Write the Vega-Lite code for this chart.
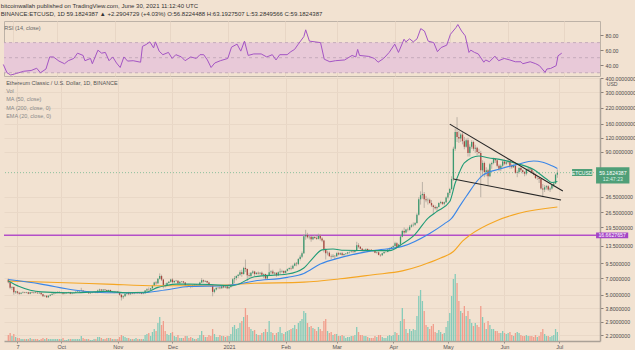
{
"$schema":"https://vega.github.io/schema/vega-lite/v6.json",
"background":"#f2e2d1",
"padding":{"left":0,"top":2,"right":0,"bottom":0},
"bounds":"flush",
"spacing":2,
"config":{"font":"Liberation Sans","view":{"stroke":null},"axis":{"labelOverlap":false}},
"title":{"text":"bitcoinwallah published on TradingView.com, June 30, 2021 11:12:40 UTC","subtitle":"BINANCE:ETCUSD, 1D  59.1824387 ▲ +2.2904729 (+4.03%) O:56.8224488 H:63.1927507 L:53.2849566 C:59.1824387","anchor":"start","frame":"bounds","fontSize":6,"subtitleFontSize":6,"fontWeight":"normal","color":"#333333","subtitleColor":"#333333","offset":3.5,"subtitlePadding":2.5},
"datasets":{
"k":[
{"d":"2020-09-02","o":6.8,"h":6.95,"l":6.3,"c":6.45,"v":6},
{"d":"2020-09-03","o":6.45,"h":6.5,"l":5.6,"c":5.75,"v":8},
{"d":"2020-09-04","o":5.75,"h":5.95,"l":5.5,"c":5.85,"v":5},
{"d":"2020-09-05","o":5.85,"h":5.9,"l":5.0,"c":5.25,"v":7},
{"d":"2020-09-06","o":5.25,"h":5.4,"l":5.1,"c":5.35,"v":4},
{"d":"2020-09-07","o":5.35,"h":5.4,"l":5.05,"c":5.2,"v":3},
{"d":"2020-09-08","o":5.2,"h":5.3,"l":5.0,"c":5.1,"v":3},
{"d":"2020-09-09","o":5.1,"h":5.25,"l":5.05,"c":5.2,"v":2},
{"d":"2020-09-10","o":5.2,"h":5.35,"l":5.15,"c":5.25,"v":2},
{"d":"2020-09-11","o":5.25,"h":5.3,"l":5.15,"c":5.2,"v":2},
{"d":"2020-09-12","o":5.2,"h":5.3,"l":5.15,"c":5.25,"v":2},
{"d":"2020-09-13","o":5.25,"h":5.3,"l":5.05,"c":5.1,"v":2},
{"d":"2020-09-14","o":5.1,"h":5.3,"l":5.05,"c":5.25,"v":3},
{"d":"2020-09-15","o":5.25,"h":5.35,"l":5.15,"c":5.2,"v":2},
{"d":"2020-09-16","o":5.2,"h":5.3,"l":5.1,"c":5.25,"v":2},
{"d":"2020-09-17","o":5.25,"h":5.35,"l":5.15,"c":5.2,"v":2},
{"d":"2020-09-18","o":5.2,"h":5.3,"l":5.1,"c":5.15,"v":2},
{"d":"2020-09-19","o":5.15,"h":5.25,"l":5.1,"c":5.2,"v":1},
{"d":"2020-09-20","o":5.2,"h":5.22,"l":5.0,"c":5.05,"v":2},
{"d":"2020-09-21","o":5.05,"h":5.1,"l":4.8,"c":4.85,"v":3},
{"d":"2020-09-22","o":4.85,"h":4.95,"l":4.8,"c":4.9,"v":2},
{"d":"2020-09-23","o":4.9,"h":4.95,"l":4.7,"c":4.75,"v":3},
{"d":"2020-09-24","o":4.75,"h":4.95,"l":4.7,"c":4.9,"v":2},
{"d":"2020-09-25","o":4.9,"h":5.05,"l":4.85,"c":5.0,"v":2},
{"d":"2020-09-26","o":5.0,"h":5.15,"l":4.95,"c":5.1,"v":2},
{"d":"2020-09-27","o":5.1,"h":5.2,"l":5.0,"c":5.15,"v":2},
{"d":"2020-09-28","o":5.15,"h":5.3,"l":5.1,"c":5.25,"v":2},
{"d":"2020-09-29","o":5.25,"h":5.35,"l":5.15,"c":5.3,"v":2},
{"d":"2020-09-30","o":5.3,"h":5.35,"l":5.15,"c":5.2,"v":2},
{"d":"2020-10-01","o":5.2,"h":5.3,"l":5.1,"c":5.2,"v":2},
{"d":"2020-10-02","o":5.2,"h":5.25,"l":5.0,"c":5.1,"v":3},
{"d":"2020-10-03","o":5.1,"h":5.2,"l":5.05,"c":5.15,"v":1},
{"d":"2020-10-04","o":5.15,"h":5.25,"l":5.1,"c":5.2,"v":1},
{"d":"2020-10-05","o":5.2,"h":5.3,"l":5.15,"c":5.25,"v":2},
{"d":"2020-10-06","o":5.25,"h":5.3,"l":5.05,"c":5.1,"v":2},
{"d":"2020-10-07","o":5.1,"h":5.2,"l":5.05,"c":5.15,"v":2},
{"d":"2020-10-08","o":5.15,"h":5.25,"l":5.1,"c":5.2,"v":2},
{"d":"2020-10-09","o":5.2,"h":5.35,"l":5.15,"c":5.3,"v":2},
{"d":"2020-10-10","o":5.3,"h":5.45,"l":5.25,"c":5.35,"v":2},
{"d":"2020-10-11","o":5.35,"h":5.45,"l":5.3,"c":5.4,"v":2},
{"d":"2020-10-12","o":5.4,"h":5.75,"l":5.35,"c":5.45,"v":5},
{"d":"2020-10-13","o":5.45,"h":5.5,"l":5.3,"c":5.35,"v":3},
{"d":"2020-10-14","o":5.35,"h":5.4,"l":5.25,"c":5.3,"v":2},
{"d":"2020-10-15","o":5.3,"h":5.35,"l":5.2,"c":5.3,"v":2},
{"d":"2020-10-16","o":5.3,"h":5.35,"l":5.1,"c":5.15,"v":2},
{"d":"2020-10-17","o":5.15,"h":5.25,"l":5.1,"c":5.2,"v":1},
{"d":"2020-10-18","o":5.2,"h":5.3,"l":5.15,"c":5.25,"v":1},
{"d":"2020-10-19","o":5.25,"h":5.35,"l":5.2,"c":5.3,"v":2},
{"d":"2020-10-20","o":5.3,"h":5.35,"l":5.15,"c":5.2,"v":2},
{"d":"2020-10-21","o":5.2,"h":5.55,"l":5.15,"c":5.45,"v":4},
{"d":"2020-10-22","o":5.45,"h":5.65,"l":5.4,"c":5.55,"v":4},
{"d":"2020-10-23","o":5.55,"h":5.6,"l":5.4,"c":5.45,"v":3},
{"d":"2020-10-24","o":5.45,"h":5.6,"l":5.4,"c":5.55,"v":2},
{"d":"2020-10-25","o":5.55,"h":5.6,"l":5.4,"c":5.5,"v":2},
{"d":"2020-10-26","o":5.5,"h":5.55,"l":5.3,"c":5.4,"v":3},
{"d":"2020-10-27","o":5.4,"h":5.55,"l":5.35,"c":5.5,"v":3},
{"d":"2020-10-28","o":5.5,"h":5.55,"l":5.25,"c":5.3,"v":3},
{"d":"2020-10-29","o":5.3,"h":5.4,"l":5.2,"c":5.35,"v":2},
{"d":"2020-10-30","o":5.35,"h":5.4,"l":5.15,"c":5.3,"v":2},
{"d":"2020-10-31","o":5.3,"h":5.4,"l":5.2,"c":5.35,"v":2},
{"d":"2020-11-01","o":5.35,"h":5.4,"l":5.2,"c":5.25,"v":2},
{"d":"2020-11-02","o":5.25,"h":5.3,"l":4.9,"c":5.0,"v":4},
{"d":"2020-11-03","o":5.0,"h":5.05,"l":4.45,"c":4.75,"v":6},
{"d":"2020-11-04","o":4.75,"h":4.95,"l":4.6,"c":4.85,"v":5},
{"d":"2020-11-05","o":4.85,"h":5.15,"l":4.8,"c":5.1,"v":4},
{"d":"2020-11-06","o":5.1,"h":5.25,"l":5.0,"c":5.2,"v":3},
{"d":"2020-11-07","o":5.2,"h":5.3,"l":4.95,"c":5.05,"v":3},
{"d":"2020-11-08","o":5.05,"h":5.2,"l":5.0,"c":5.15,"v":2},
{"d":"2020-11-09","o":5.15,"h":5.25,"l":5.05,"c":5.1,"v":2},
{"d":"2020-11-10","o":5.1,"h":5.2,"l":5.05,"c":5.15,"v":2},
{"d":"2020-11-11","o":5.15,"h":5.3,"l":5.1,"c":5.25,"v":3},
{"d":"2020-11-12","o":5.25,"h":5.3,"l":5.1,"c":5.15,"v":2},
{"d":"2020-11-13","o":5.15,"h":5.25,"l":5.1,"c":5.2,"v":2},
{"d":"2020-11-14","o":5.2,"h":5.25,"l":5.05,"c":5.1,"v":2},
{"d":"2020-11-15","o":5.1,"h":5.2,"l":5.05,"c":5.15,"v":2},
{"d":"2020-11-16","o":5.15,"h":5.5,"l":5.1,"c":5.45,"v":6},
{"d":"2020-11-17","o":5.45,"h":5.7,"l":5.35,"c":5.6,"v":7},
{"d":"2020-11-18","o":5.6,"h":5.8,"l":5.4,"c":5.55,"v":8},
{"d":"2020-11-19","o":5.55,"h":5.75,"l":5.5,"c":5.7,"v":5},
{"d":"2020-11-20","o":5.7,"h":6.1,"l":5.65,"c":6.0,"v":9},
{"d":"2020-11-21","o":6.0,"h":6.5,"l":5.95,"c":6.4,"v":12},
{"d":"2020-11-22","o":6.4,"h":6.6,"l":6.1,"c":6.3,"v":10},
{"d":"2020-11-23","o":6.3,"h":7.0,"l":6.2,"c":6.9,"v":18},
{"d":"2020-11-24","o":6.9,"h":7.7,"l":6.8,"c":7.3,"v":24},
{"d":"2020-11-25","o":7.3,"h":7.5,"l":6.6,"c":6.8,"v":16},
{"d":"2020-11-26","o":6.8,"h":6.9,"l":5.7,"c":6.1,"v":20},
{"d":"2020-11-27","o":6.1,"h":6.3,"l":5.8,"c":6.0,"v":10},
{"d":"2020-11-28","o":6.0,"h":6.45,"l":5.95,"c":6.35,"v":7},
{"d":"2020-11-29","o":6.35,"h":6.6,"l":6.25,"c":6.5,"v":6},
{"d":"2020-11-30","o":6.5,"h":6.9,"l":6.4,"c":6.8,"v":8},
{"d":"2020-12-01","o":6.8,"h":7.0,"l":6.3,"c":6.45,"v":9},
{"d":"2020-12-02","o":6.45,"h":6.7,"l":6.35,"c":6.6,"v":5},
{"d":"2020-12-03","o":6.6,"h":6.75,"l":6.5,"c":6.65,"v":4},
{"d":"2020-12-04","o":6.65,"h":6.7,"l":6.2,"c":6.3,"v":6},
{"d":"2020-12-05","o":6.3,"h":6.55,"l":6.25,"c":6.5,"v":3},
{"d":"2020-12-06","o":6.5,"h":6.6,"l":6.4,"c":6.55,"v":3},
{"d":"2020-12-07","o":6.55,"h":6.6,"l":6.3,"c":6.4,"v":3},
{"d":"2020-12-08","o":6.4,"h":6.45,"l":6.0,"c":6.05,"v":5},
{"d":"2020-12-09","o":6.05,"h":6.2,"l":5.8,"c":6.1,"v":5},
{"d":"2020-12-10","o":6.1,"h":6.15,"l":5.9,"c":6.0,"v":3},
{"d":"2020-12-11","o":6.0,"h":6.05,"l":5.7,"c":5.85,"v":4},
{"d":"2020-12-12","o":5.85,"h":6.1,"l":5.8,"c":6.05,"v":3},
{"d":"2020-12-13","o":6.05,"h":6.2,"l":6.0,"c":6.15,"v":2},
{"d":"2020-12-14","o":6.15,"h":6.2,"l":6.0,"c":6.1,"v":2},
{"d":"2020-12-15","o":6.1,"h":6.2,"l":6.0,"c":6.1,"v":3},
{"d":"2020-12-16","o":6.1,"h":6.5,"l":6.05,"c":6.4,"v":6},
{"d":"2020-12-17","o":6.4,"h":7.0,"l":6.35,"c":6.7,"v":10},
{"d":"2020-12-18","o":6.7,"h":6.8,"l":6.4,"c":6.55,"v":6},
{"d":"2020-12-19","o":6.55,"h":6.7,"l":6.45,"c":6.6,"v":4},
{"d":"2020-12-20","o":6.6,"h":6.65,"l":6.3,"c":6.4,"v":4},
{"d":"2020-12-21","o":6.4,"h":6.5,"l":6.0,"c":6.1,"v":6},
{"d":"2020-12-22","o":6.1,"h":6.2,"l":5.85,"c":6.05,"v":5},
{"d":"2020-12-23","o":6.05,"h":6.1,"l":4.85,"c":5.3,"v":12},
{"d":"2020-12-24","o":5.3,"h":5.65,"l":5.15,"c":5.55,"v":7},
{"d":"2020-12-25","o":5.55,"h":5.8,"l":5.45,"c":5.75,"v":4},
{"d":"2020-12-26","o":5.75,"h":5.9,"l":5.6,"c":5.8,"v":4},
{"d":"2020-12-27","o":5.8,"h":6.1,"l":5.6,"c":5.7,"v":6},
{"d":"2020-12-28","o":5.7,"h":6.0,"l":5.65,"c":5.95,"v":5},
{"d":"2020-12-29","o":5.95,"h":6.0,"l":5.7,"c":5.8,"v":5},
{"d":"2020-12-30","o":5.8,"h":5.95,"l":5.7,"c":5.9,"v":4},
{"d":"2020-12-31","o":5.9,"h":6.0,"l":5.6,"c":5.7,"v":5},
{"d":"2021-01-01","o":5.7,"h":5.9,"l":5.6,"c":5.85,"v":5},
{"d":"2021-01-02","o":5.85,"h":6.1,"l":5.75,"c":6.0,"v":7},
{"d":"2021-01-03","o":6.0,"h":7.0,"l":5.95,"c":6.85,"v":14},
{"d":"2021-01-04","o":6.85,"h":7.3,"l":6.3,"c":7.0,"v":16},
{"d":"2021-01-05","o":7.0,"h":7.4,"l":6.7,"c":7.3,"v":12},
{"d":"2021-01-06","o":7.3,"h":7.6,"l":7.0,"c":7.5,"v":13},
{"d":"2021-01-07","o":7.5,"h":8.2,"l":7.3,"c":7.9,"v":18},
{"d":"2021-01-08","o":7.9,"h":8.3,"l":7.2,"c":7.6,"v":20},
{"d":"2021-01-09","o":7.6,"h":8.8,"l":7.5,"c":8.6,"v":24},
{"d":"2021-01-10","o":8.6,"h":10.2,"l":7.9,"c":8.4,"v":33},
{"d":"2021-01-11","o":8.4,"h":8.5,"l":6.6,"c":7.4,"v":26},
{"d":"2021-01-12","o":7.4,"h":7.8,"l":7.0,"c":7.3,"v":14},
{"d":"2021-01-13","o":7.3,"h":7.9,"l":7.0,"c":7.8,"v":12},
{"d":"2021-01-14","o":7.8,"h":8.2,"l":7.6,"c":8.0,"v":10},
{"d":"2021-01-15","o":8.0,"h":8.1,"l":7.3,"c":7.6,"v":11},
{"d":"2021-01-16","o":7.6,"h":7.9,"l":7.5,"c":7.8,"v":7},
{"d":"2021-01-17","o":7.8,"h":8.0,"l":7.5,"c":7.7,"v":6},
{"d":"2021-01-18","o":7.7,"h":7.9,"l":7.5,"c":7.8,"v":6},
{"d":"2021-01-19","o":7.8,"h":8.0,"l":7.4,"c":7.5,"v":8},
{"d":"2021-01-20","o":7.5,"h":7.7,"l":7.0,"c":7.6,"v":9},
{"d":"2021-01-21","o":7.6,"h":7.65,"l":6.8,"c":6.95,"v":12},
{"d":"2021-01-22","o":6.95,"h":7.5,"l":6.8,"c":7.4,"v":9},
{"d":"2021-01-23","o":7.4,"h":9.4,"l":7.3,"c":7.9,"v":20},
{"d":"2021-01-24","o":7.9,"h":8.2,"l":7.6,"c":8.0,"v":9},
{"d":"2021-01-25","o":8.0,"h":8.3,"l":7.6,"c":7.7,"v":8},
{"d":"2021-01-26","o":7.7,"h":7.9,"l":7.4,"c":7.8,"v":6},
{"d":"2021-01-27","o":7.8,"h":7.85,"l":7.2,"c":7.4,"v":8},
{"d":"2021-01-28","o":7.4,"h":8.0,"l":7.3,"c":7.9,"v":9},
{"d":"2021-01-29","o":7.9,"h":8.5,"l":7.6,"c":8.0,"v":14},
{"d":"2021-01-30","o":8.0,"h":8.3,"l":7.8,"c":8.1,"v":8},
{"d":"2021-01-31","o":8.1,"h":8.2,"l":7.6,"c":7.8,"v":7},
{"d":"2021-02-01","o":7.8,"h":8.2,"l":7.7,"c":8.1,"v":9},
{"d":"2021-02-02","o":8.1,"h":8.5,"l":8.0,"c":8.4,"v":10},
{"d":"2021-02-03","o":8.4,"h":8.7,"l":8.2,"c":8.6,"v":11},
{"d":"2021-02-04","o":8.6,"h":9.0,"l":8.2,"c":8.5,"v":12},
{"d":"2021-02-05","o":8.5,"h":9.2,"l":8.4,"c":9.0,"v":13},
{"d":"2021-02-06","o":9.0,"h":9.6,"l":8.9,"c":9.4,"v":16},
{"d":"2021-02-07","o":9.4,"h":9.7,"l":8.9,"c":9.3,"v":12},
{"d":"2021-02-08","o":9.3,"h":10.5,"l":9.1,"c":10.3,"v":18},
{"d":"2021-02-09","o":10.3,"h":11.2,"l":10.0,"c":10.8,"v":20},
{"d":"2021-02-10","o":10.8,"h":12.0,"l":10.5,"c":11.6,"v":22},
{"d":"2021-02-11","o":11.6,"h":17.0,"l":11.4,"c":16.3,"v":30},
{"d":"2021-02-12","o":16.3,"h":18.6,"l":15.2,"c":16.8,"v":28},
{"d":"2021-02-13","o":16.8,"h":17.5,"l":15.6,"c":16.0,"v":18},
{"d":"2021-02-14","o":16.0,"h":16.7,"l":15.3,"c":16.2,"v":14},
{"d":"2021-02-15","o":16.2,"h":16.4,"l":14.6,"c":15.4,"v":15},
{"d":"2021-02-16","o":15.4,"h":16.5,"l":15.1,"c":16.1,"v":13},
{"d":"2021-02-17","o":16.1,"h":16.8,"l":15.5,"c":15.8,"v":12},
{"d":"2021-02-18","o":15.8,"h":16.3,"l":15.2,"c":15.5,"v":10},
{"d":"2021-02-19","o":15.5,"h":17.2,"l":15.3,"c":16.5,"v":14},
{"d":"2021-02-20","o":16.5,"h":17.0,"l":15.0,"c":15.6,"v":12},
{"d":"2021-02-21","o":15.6,"h":16.0,"l":14.5,"c":15.0,"v":10},
{"d":"2021-02-22","o":15.0,"h":15.2,"l":11.8,"c":12.6,"v":20},
{"d":"2021-02-23","o":12.6,"h":12.8,"l":10.2,"c":11.6,"v":22},
{"d":"2021-02-24","o":11.6,"h":12.2,"l":11.1,"c":11.7,"v":10},
{"d":"2021-02-25","o":11.7,"h":12.0,"l":10.8,"c":10.9,"v":8},
{"d":"2021-02-26","o":10.9,"h":11.3,"l":10.3,"c":10.8,"v":9},
{"d":"2021-02-27","o":10.8,"h":11.4,"l":10.6,"c":11.0,"v":6},
{"d":"2021-02-28","o":11.0,"h":11.1,"l":10.2,"c":10.9,"v":7},
{"d":"2021-03-01","o":10.9,"h":11.8,"l":10.8,"c":11.6,"v":7},
{"d":"2021-03-02","o":11.6,"h":11.9,"l":11.1,"c":11.3,"v":5},
{"d":"2021-03-03","o":11.3,"h":11.8,"l":11.2,"c":11.6,"v":5},
{"d":"2021-03-04","o":11.6,"h":11.9,"l":11.0,"c":11.2,"v":6},
{"d":"2021-03-05","o":11.2,"h":11.5,"l":10.9,"c":11.4,"v":5},
{"d":"2021-03-06","o":11.4,"h":11.6,"l":11.2,"c":11.5,"v":3},
{"d":"2021-03-07","o":11.5,"h":11.9,"l":11.3,"c":11.8,"v":4},
{"d":"2021-03-08","o":11.8,"h":12.0,"l":11.5,"c":11.9,"v":4},
{"d":"2021-03-09","o":11.9,"h":12.2,"l":11.7,"c":12.0,"v":5},
{"d":"2021-03-10","o":12.0,"h":12.3,"l":11.6,"c":11.9,"v":5},
{"d":"2021-03-11","o":11.9,"h":12.4,"l":11.7,"c":12.2,"v":6},
{"d":"2021-03-12","o":12.2,"h":14.6,"l":12.0,"c":13.6,"v":14},
{"d":"2021-03-13","o":13.6,"h":14.2,"l":12.8,"c":13.2,"v":9},
{"d":"2021-03-14","o":13.2,"h":13.4,"l":12.5,"c":12.7,"v":6},
{"d":"2021-03-15","o":12.7,"h":12.9,"l":12.0,"c":12.3,"v":6},
{"d":"2021-03-16","o":12.3,"h":12.6,"l":11.9,"c":12.4,"v":5},
{"d":"2021-03-17","o":12.4,"h":12.8,"l":12.1,"c":12.6,"v":5},
{"d":"2021-03-18","o":12.6,"h":12.8,"l":12.1,"c":12.2,"v":4},
{"d":"2021-03-19","o":12.2,"h":12.5,"l":12.0,"c":12.4,"v":3},
{"d":"2021-03-20","o":12.4,"h":12.6,"l":12.2,"c":12.3,"v":3},
{"d":"2021-03-21","o":12.3,"h":12.4,"l":11.9,"c":12.2,"v":3},
{"d":"2021-03-22","o":12.2,"h":12.3,"l":11.6,"c":11.7,"v":5},
{"d":"2021-03-23","o":11.7,"h":12.0,"l":11.5,"c":11.8,"v":4},
{"d":"2021-03-24","o":11.8,"h":12.0,"l":11.1,"c":11.2,"v":6},
{"d":"2021-03-25","o":11.2,"h":11.4,"l":10.8,"c":11.1,"v":6},
{"d":"2021-03-26","o":11.1,"h":11.7,"l":11.0,"c":11.6,"v":4},
{"d":"2021-03-27","o":11.6,"h":12.0,"l":11.5,"c":11.9,"v":3},
{"d":"2021-03-28","o":11.9,"h":12.1,"l":11.7,"c":11.9,"v":3},
{"d":"2021-03-29","o":11.9,"h":12.6,"l":11.8,"c":12.5,"v":5},
{"d":"2021-03-30","o":12.5,"h":13.0,"l":12.3,"c":12.8,"v":6},
{"d":"2021-03-31","o":12.8,"h":13.2,"l":12.5,"c":13.1,"v":5},
{"d":"2021-04-01","o":13.1,"h":13.6,"l":12.7,"c":13.4,"v":6},
{"d":"2021-04-02","o":13.4,"h":14.6,"l":13.2,"c":14.2,"v":9},
{"d":"2021-04-03","o":14.2,"h":14.5,"l":12.9,"c":13.1,"v":8},
{"d":"2021-04-04","o":13.1,"h":14.0,"l":13.0,"c":13.8,"v":6},
{"d":"2021-04-05","o":13.8,"h":16.5,"l":13.6,"c":16.2,"v":20},
{"d":"2021-04-06","o":16.2,"h":18.6,"l":16.0,"c":18.2,"v":33},
{"d":"2021-04-07","o":18.2,"h":19.5,"l":16.8,"c":17.6,"v":22},
{"d":"2021-04-08","o":17.6,"h":19.0,"l":17.3,"c":18.7,"v":12},
{"d":"2021-04-09","o":18.7,"h":19.4,"l":18.0,"c":18.6,"v":8},
{"d":"2021-04-10","o":18.6,"h":20.5,"l":18.3,"c":19.8,"v":12},
{"d":"2021-04-11","o":19.8,"h":21.0,"l":19.4,"c":20.4,"v":10},
{"d":"2021-04-12","o":20.4,"h":21.6,"l":19.8,"c":20.6,"v":12},
{"d":"2021-04-13","o":20.6,"h":21.8,"l":20.2,"c":21.4,"v":11},
{"d":"2021-04-14","o":21.4,"h":26.0,"l":21.0,"c":25.3,"v":25},
{"d":"2021-04-15","o":25.3,"h":36.0,"l":24.8,"c":34.5,"v":45},
{"d":"2021-04-16","o":34.5,"h":40.5,"l":31.0,"c":37.5,"v":51},
{"d":"2021-04-17","o":37.5,"h":49.0,"l":35.0,"c":38.5,"v":40},
{"d":"2021-04-18","o":38.5,"h":40.0,"l":29.0,"c":34.5,"v":30},
{"d":"2021-04-19","o":34.5,"h":37.0,"l":32.5,"c":33.8,"v":16},
{"d":"2021-04-20","o":33.8,"h":35.5,"l":31.0,"c":34.2,"v":14},
{"d":"2021-04-21","o":34.2,"h":35.0,"l":31.5,"c":32.0,"v":12},
{"d":"2021-04-22","o":32.0,"h":34.0,"l":29.5,"c":30.5,"v":15},
{"d":"2021-04-23","o":30.5,"h":31.0,"l":25.5,"c":29.5,"v":17},
{"d":"2021-04-24","o":29.5,"h":30.5,"l":28.0,"c":28.8,"v":9},
{"d":"2021-04-25","o":28.8,"h":30.0,"l":27.0,"c":29.5,"v":8},
{"d":"2021-04-26","o":29.5,"h":32.5,"l":29.2,"c":32.0,"v":11},
{"d":"2021-04-27","o":32.0,"h":33.5,"l":31.2,"c":32.6,"v":9},
{"d":"2021-04-28","o":32.6,"h":33.0,"l":30.8,"c":31.5,"v":7},
{"d":"2021-04-29","o":31.5,"h":33.0,"l":30.5,"c":32.5,"v":8},
{"d":"2021-04-30","o":32.5,"h":36.5,"l":32.0,"c":35.8,"v":14},
{"d":"2021-05-01","o":35.8,"h":40.0,"l":35.0,"c":39.2,"v":20},
{"d":"2021-05-02","o":39.2,"h":43.5,"l":37.5,"c":42.5,"v":28},
{"d":"2021-05-03","o":42.5,"h":55.0,"l":41.5,"c":52.0,"v":45},
{"d":"2021-05-04","o":52.0,"h":100.0,"l":50.0,"c":96.0,"v":62},
{"d":"2021-05-05","o":96.0,"h":145.0,"l":92.0,"c":135.0,"v":67},
{"d":"2021-05-06","o":135.0,"h":182.0,"l":110.0,"c":122.0,"v":58},
{"d":"2021-05-07","o":122.0,"h":138.0,"l":108.0,"c":118.0,"v":40},
{"d":"2021-05-08","o":118.0,"h":132.0,"l":110.0,"c":128.0,"v":30},
{"d":"2021-05-09","o":128.0,"h":134.0,"l":105.0,"c":112.0,"v":28},
{"d":"2021-05-10","o":112.0,"h":122.0,"l":95.0,"c":100.0,"v":35},
{"d":"2021-05-11","o":100.0,"h":118.0,"l":98.0,"c":114.0,"v":25},
{"d":"2021-05-12","o":114.0,"h":120.0,"l":82.0,"c":88.0,"v":30},
{"d":"2021-05-13","o":88.0,"h":105.0,"l":82.0,"c":100.0,"v":22},
{"d":"2021-05-14","o":100.0,"h":114.0,"l":96.0,"c":110.0,"v":18},
{"d":"2021-05-15","o":110.0,"h":113.0,"l":92.0,"c":96.0,"v":15},
{"d":"2021-05-16","o":96.0,"h":104.0,"l":88.0,"c":98.0,"v":18},
{"d":"2021-05-17","o":98.0,"h":100.0,"l":84.0,"c":90.0,"v":16},
{"d":"2021-05-18","o":90.0,"h":96.0,"l":86.0,"c":88.0,"v":14},
{"d":"2021-05-19","o":88.0,"h":92.0,"l":36.0,"c":62.0,"v":35},
{"d":"2021-05-20","o":62.0,"h":76.0,"l":55.0,"c":72.0,"v":24},
{"d":"2021-05-21","o":72.0,"h":74.0,"l":54.0,"c":60.0,"v":18},
{"d":"2021-05-22","o":60.0,"h":66.0,"l":55.0,"c":62.0,"v":12},
{"d":"2021-05-23","o":62.0,"h":64.0,"l":46.0,"c":55.0,"v":20},
{"d":"2021-05-24","o":55.0,"h":72.0,"l":54.0,"c":70.0,"v":16},
{"d":"2021-05-25","o":70.0,"h":74.0,"l":64.0,"c":72.0,"v":12},
{"d":"2021-05-26","o":72.0,"h":80.0,"l":70.0,"c":78.0,"v":12},
{"d":"2021-05-27","o":78.0,"h":79.0,"l":72.0,"c":76.0,"v":10},
{"d":"2021-05-28","o":76.0,"h":77.0,"l":66.0,"c":68.0,"v":10},
{"d":"2021-05-29","o":68.0,"h":70.0,"l":61.0,"c":64.0,"v":8},
{"d":"2021-05-30","o":64.0,"h":70.0,"l":61.0,"c":68.0,"v":8},
{"d":"2021-05-31","o":68.0,"h":76.0,"l":66.0,"c":74.0,"v":10},
{"d":"2021-06-01","o":74.0,"h":77.0,"l":69.0,"c":71.0,"v":8},
{"d":"2021-06-02","o":71.0,"h":75.0,"l":69.0,"c":73.0,"v":7},
{"d":"2021-06-03","o":73.0,"h":78.0,"l":71.0,"c":75.0,"v":8},
{"d":"2021-06-04","o":75.0,"h":76.0,"l":64.0,"c":68.0,"v":9},
{"d":"2021-06-05","o":68.0,"h":71.0,"l":64.0,"c":66.0,"v":6},
{"d":"2021-06-06","o":66.0,"h":70.0,"l":65.0,"c":68.0,"v":5},
{"d":"2021-06-07","o":68.0,"h":70.0,"l":58.0,"c":59.0,"v":8},
{"d":"2021-06-08","o":59.0,"h":62.0,"l":54.0,"c":60.0,"v":9},
{"d":"2021-06-09","o":60.0,"h":66.0,"l":58.0,"c":65.0,"v":8},
{"d":"2021-06-10","o":65.0,"h":67.0,"l":60.0,"c":62.0,"v":6},
{"d":"2021-06-11","o":62.0,"h":63.0,"l":58.0,"c":60.0,"v":5},
{"d":"2021-06-12","o":60.0,"h":61.0,"l":55.0,"c":58.0,"v":5},
{"d":"2021-06-13","o":58.0,"h":64.0,"l":56.0,"c":63.0,"v":6},
{"d":"2021-06-14","o":63.0,"h":66.0,"l":61.0,"c":64.0,"v":5},
{"d":"2021-06-15","o":64.0,"h":66.0,"l":61.0,"c":63.0,"v":5},
{"d":"2021-06-16","o":63.0,"h":64.0,"l":58.0,"c":59.0,"v":5},
{"d":"2021-06-17","o":59.0,"h":61.0,"l":56.0,"c":57.0,"v":4},
{"d":"2021-06-18","o":57.0,"h":58.0,"l":52.0,"c":53.0,"v":6},
{"d":"2021-06-19","o":53.0,"h":55.0,"l":51.0,"c":53.0,"v":4},
{"d":"2021-06-20","o":53.0,"h":54.0,"l":48.0,"c":52.0,"v":5},
{"d":"2021-06-21","o":52.0,"h":53.0,"l":42.0,"c":43.0,"v":9},
{"d":"2021-06-22","o":43.0,"h":47.0,"l":36.0,"c":42.0,"v":12},
{"d":"2021-06-23","o":42.0,"h":46.0,"l":40.0,"c":44.0,"v":7},
{"d":"2021-06-24","o":44.0,"h":46.0,"l":42.0,"c":45.0,"v":5},
{"d":"2021-06-25","o":45.0,"h":46.0,"l":41.0,"c":42.0,"v":5},
{"d":"2021-06-26","o":42.0,"h":44.0,"l":40.0,"c":43.0,"v":4},
{"d":"2021-06-27","o":43.0,"h":47.0,"l":42.0,"c":46.0,"v":5},
{"d":"2021-06-28","o":46.0,"h":49.0,"l":44.0,"c":47.5,"v":6},
{"d":"2021-06-29","o":47.5,"h":58.0,"l":47.0,"c":56.8224488,"v":12},
{"d":"2021-06-30","o":56.8224488,"h":63.1927507,"l":53.2849566,"c":59.1824387,"v":9}
],
"r":[
{"d":"2020-09-02","r":41},{"d":"2020-09-04","r":30},{"d":"2020-09-06","r":27},{"d":"2020-09-09","r":29},{"d":"2020-09-13","r":32},{"d":"2020-09-17","r":33},{"d":"2020-09-20","r":36},{"d":"2020-09-22","r":30},{"d":"2020-09-25","r":35},{"d":"2020-09-27","r":51},{"d":"2020-09-29","r":51},
{"d":"2020-10-02","r":45.5},{"d":"2020-10-05","r":42},{"d":"2020-10-07","r":46},{"d":"2020-10-10","r":49},{"d":"2020-10-12","r":56},{"d":"2020-10-15","r":53},{"d":"2020-10-16","r":46},{"d":"2020-10-19","r":49},{"d":"2020-10-20","r":42},{"d":"2020-10-23","r":60},{"d":"2020-10-25","r":56},{"d":"2020-10-27","r":57},{"d":"2020-10-29","r":46},{"d":"2020-10-31","r":51},
{"d":"2020-11-02","r":43},{"d":"2020-11-04","r":37},{"d":"2020-11-06","r":51},{"d":"2020-11-08","r":45.5},{"d":"2020-11-11","r":46},{"d":"2020-11-15","r":44},{"d":"2020-11-16","r":65},{"d":"2020-11-18","r":67.5},{"d":"2020-11-20","r":71},{"d":"2020-11-22","r":63},{"d":"2020-11-23","r":71},{"d":"2020-11-25","r":58.7},{"d":"2020-11-27","r":54},{"d":"2020-11-30","r":57},
{"d":"2020-12-02","r":49},{"d":"2020-12-04","r":54},{"d":"2020-12-07","r":51},{"d":"2020-12-09","r":46},{"d":"2020-12-12","r":51},{"d":"2020-12-15","r":49},{"d":"2020-12-17","r":54},{"d":"2020-12-19","r":54},{"d":"2020-12-21","r":47},{"d":"2020-12-23","r":37},{"d":"2020-12-25","r":43},{"d":"2020-12-28","r":46},
{"d":"2021-01-01","r":49},{"d":"2021-01-03","r":64},{"d":"2021-01-06","r":68},{"d":"2021-01-08","r":58.7},{"d":"2021-01-10","r":72},{"d":"2021-01-12","r":53},{"d":"2021-01-15","r":55},{"d":"2021-01-19","r":55},{"d":"2021-01-22","r":51},{"d":"2021-01-25","r":54},{"d":"2021-01-27","r":47},{"d":"2021-01-29","r":54},
{"d":"2021-02-02","r":54},{"d":"2021-02-04","r":58},{"d":"2021-02-06","r":61},{"d":"2021-02-08","r":68},{"d":"2021-02-11","r":78},{"d":"2021-02-12","r":87},{"d":"2021-02-14","r":72},{"d":"2021-02-17","r":71},{"d":"2021-02-20","r":70},{"d":"2021-02-22","r":48},{"d":"2021-02-25","r":44.6},{"d":"2021-02-28","r":46},
{"d":"2021-03-05","r":47},{"d":"2021-03-09","r":53},{"d":"2021-03-11","r":51},{"d":"2021-03-12","r":61},{"d":"2021-03-13","r":53},{"d":"2021-03-18","r":51.7},{"d":"2021-03-21","r":49},{"d":"2021-03-23","r":44},{"d":"2021-03-26","r":49},{"d":"2021-03-29","r":57},
{"d":"2021-04-01","r":68},{"d":"2021-04-03","r":57},{"d":"2021-04-06","r":74.5},{"d":"2021-04-07","r":71},{"d":"2021-04-09","r":75},{"d":"2021-04-11","r":71},{"d":"2021-04-13","r":75},{"d":"2021-04-15","r":88.6},{"d":"2021-04-17","r":85.4},{"d":"2021-04-19","r":72},{"d":"2021-04-22","r":70},{"d":"2021-04-24","r":58},{"d":"2021-04-26","r":63.5},{"d":"2021-04-29","r":66.6},
{"d":"2021-05-01","r":81},{"d":"2021-05-04","r":90},{"d":"2021-05-05","r":94},{"d":"2021-05-07","r":85.4},{"d":"2021-05-09","r":79},{"d":"2021-05-11","r":57},{"d":"2021-05-12","r":60},{"d":"2021-05-14","r":57},{"d":"2021-05-16","r":55},{"d":"2021-05-19","r":44},{"d":"2021-05-20","r":47},{"d":"2021-05-22","r":44.6},{"d":"2021-05-25","r":52},{"d":"2021-05-27","r":46},{"d":"2021-05-30","r":49},
{"d":"2021-06-02","r":47},{"d":"2021-06-05","r":44.6},{"d":"2021-06-08","r":44.6},{"d":"2021-06-09","r":42},{"d":"2021-06-13","r":44.6},{"d":"2021-06-16","r":42},{"d":"2021-06-18","r":39.4},{"d":"2021-06-21","r":30.6},{"d":"2021-06-22","r":35},{"d":"2021-06-24","r":35.7},{"d":"2021-06-27","r":39.4},{"d":"2021-06-28","r":52.5},{"d":"2021-06-30","r":56}
],
"m":[
{"s":"200","d":"2020-09-02","p":6.6},{"s":"200","d":"2020-09-29","p":6.4},{"s":"200","d":"2020-10-26","p":6.2},{"s":"200","d":"2020-11-22","p":6.0},{"s":"200","d":"2020-12-19","p":6.0},{"s":"200","d":"2021-01-15","p":6.3},{"s":"200","d":"2021-02-11","p":6.45},{"s":"200","d":"2021-03-03","p":6.9},{"s":"200","d":"2021-03-21","p":7.5},{"s":"200","d":"2021-04-06","p":8.1},{"s":"200","d":"2021-04-16","p":9.0},{"s":"200","d":"2021-04-27","p":10.5},{"s":"200","d":"2021-05-04","p":12.0},{"s":"200","d":"2021-05-09","p":14.8},{"s":"200","d":"2021-05-13","p":16.7},{"s":"200","d":"2021-05-28","p":22.5},{"s":"200","d":"2021-06-09","p":26.0},{"s":"200","d":"2021-06-30","p":29.5},
{"s":"50","d":"2020-09-02","p":6.8},{"s":"50","d":"2020-09-20","p":6.2},{"s":"50","d":"2020-10-08","p":5.5},{"s":"50","d":"2020-10-26","p":5.2},{"s":"50","d":"2020-11-13","p":5.2},{"s":"50","d":"2020-11-27","p":5.5},{"s":"50","d":"2020-12-10","p":5.9},{"s":"50","d":"2020-12-28","p":6.0},{"s":"50","d":"2021-01-03","p":6.1},{"s":"50","d":"2021-01-15","p":6.6},{"s":"50","d":"2021-02-02","p":7.1},{"s":"50","d":"2021-02-11","p":7.7},{"s":"50","d":"2021-02-20","p":9.3},{"s":"50","d":"2021-03-03","p":10.6},{"s":"50","d":"2021-03-21","p":12.2},{"s":"50","d":"2021-04-06","p":13.3},{"s":"50","d":"2021-04-21","p":17.3},{"s":"50","d":"2021-04-29","p":21.0},{"s":"50","d":"2021-05-03","p":23.5},{"s":"50","d":"2021-05-08","p":31.0},{"s":"50","d":"2021-05-11","p":36.5},{"s":"50","d":"2021-05-20","p":56.0},{"s":"50","d":"2021-05-30","p":64.0},{"s":"50","d":"2021-06-08","p":70.0},{"s":"50","d":"2021-06-17","p":75.0},{"s":"50","d":"2021-06-22","p":73.0},{"s":"50","d":"2021-06-27","p":68.0},{"s":"50","d":"2021-06-30","p":64.5},
{"s":"20","d":"2020-09-02","p":6.6},{"s":"20","d":"2020-09-08","p":5.9},{"s":"20","d":"2020-09-20","p":5.3},{"s":"20","d":"2020-10-08","p":5.2},{"s":"20","d":"2020-10-26","p":5.35},{"s":"20","d":"2020-11-06","p":5.2},{"s":"20","d":"2020-11-16","p":5.25},{"s":"20","d":"2020-11-23","p":5.8},{"s":"20","d":"2020-11-27","p":6.0},{"s":"20","d":"2020-12-03","p":6.2},{"s":"20","d":"2020-12-10","p":6.2},{"s":"20","d":"2020-12-22","p":6.15},{"s":"20","d":"2021-01-03","p":6.0},{"s":"20","d":"2021-01-15","p":7.2},{"s":"20","d":"2021-02-02","p":7.6},{"s":"20","d":"2021-02-11","p":8.6},{"s":"20","d":"2021-02-16","p":10.5},{"s":"20","d":"2021-02-21","p":12.4},{"s":"20","d":"2021-02-27","p":12.6},{"s":"20","d":"2021-03-05","p":12.3},{"s":"20","d":"2021-03-21","p":12.2},{"s":"20","d":"2021-03-30","p":12.2},{"s":"20","d":"2021-04-06","p":14.0},{"s":"20","d":"2021-04-13","p":17.0},{"s":"20","d":"2021-04-20","p":23.5},{"s":"20","d":"2021-04-25","p":27.0},{"s":"20","d":"2021-05-02","p":33.0},{"s":"20","d":"2021-05-05","p":48.0},{"s":"20","d":"2021-05-07","p":58.0},{"s":"20","d":"2021-05-10","p":72.0},{"s":"20","d":"2021-05-18","p":83.0},{"s":"20","d":"2021-05-23","p":80.0},{"s":"20","d":"2021-05-30","p":77.0},{"s":"20","d":"2021-06-08","p":71.0},{"s":"20","d":"2021-06-17","p":63.0},{"s":"20","d":"2021-06-24","p":52.0},{"s":"20","d":"2021-06-27","p":48.5},{"s":"20","d":"2021-06-30","p":49.5}
],
"t":[
{"id":"u","d":"2021-05-02","p":158},{"id":"u","d":"2021-07-03","p":40.8},
{"id":"l","d":"2021-05-04","p":52.1},{"id":"l","d":"2021-07-02","p":34.0}
]
},
"vconcat":[
{
"width":596,"height":55,
"view":{"stroke":"#bdb2a7","strokeWidth":1},
"title":{"text":"RSI (14, close)","anchor":"start","offset":-10,"dx":3,"fontSize":5.5,"fontWeight":"normal","color":"#666666"},
"layer":[
{"data":{"values":[{}]},"mark":{"type":"rect","color":"#e8c9d8"},"encoding":{"y":{"datum":70,"type":"quantitative","scale":{"domain":[25.7,98.7],"nice":false,"zero":false},"axis":{"orient":"right","values":[40,60,80],"format":".2f","labelFontSize":5.2,"labelColor":"#4a4a4a","tickSize":3,"tickColor":"#8a8078","labelPadding":2,"domain":false,"grid":false,"title":null,"labelOverlap":false}},"y2":{"datum":30}}},
{"data":{"values":[{"lv":70},{"lv":50},{"lv":30}]},"mark":{"type":"rule","color":"#bba2b4","strokeDash":[3,3],"strokeWidth":0.8},"encoding":{"y":{"field":"lv","type":"quantitative","scale":{"domain":[25.7,98.7],"nice":false,"zero":false},"axis":{"orient":"right","values":[40,60,80],"format":".2f","labelFontSize":5.2,"labelColor":"#4a4a4a","tickSize":3,"tickColor":"#8a8078","labelPadding":2,"domain":false,"grid":false,"title":null,"labelOverlap":false}}}},
{"data":{"name":"r"},"mark":{"type":"line","color":"#a455c4","strokeWidth":1},
"encoding":{
"x":{"field":"d","type":"temporal","scale":{"type":"utc","domain":[{"year":2020,"month":9,"date":2,"hours":9,"utc":true},{"year":2021,"month":7,"date":20,"hours":15,"utc":true}],"nice":false},
"axis":{"values":[{"year":2020,"month":9,"date":7,"utc":true},{"year":2020,"month":10,"date":1,"utc":true},{"year":2020,"month":11,"date":1,"utc":true},{"year":2020,"month":12,"date":1,"utc":true},{"year":2021,"month":1,"date":1,"utc":true},{"year":2021,"month":2,"date":1,"utc":true},{"year":2021,"month":3,"date":1,"utc":true},{"year":2021,"month":4,"date":1,"utc":true},{"year":2021,"month":5,"date":1,"utc":true},{"year":2021,"month":6,"date":1,"utc":true},{"year":2021,"month":7,"date":1,"utc":true}],"labels":false,"ticks":false,"domain":false,"grid":true,"gridColor":"#e8d6c5","title":null}},
"y":{"field":"r","type":"quantitative","scale":{"domain":[25.7,98.7],"nice":false,"zero":false},"axis":{"orient":"right","values":[40,60,80],"format":".2f","labelFontSize":5.2,"labelColor":"#4a4a4a","tickSize":3,"tickColor":"#8a8078","labelPadding":2,"domain":false,"grid":false,"title":null,"labelOverlap":false}}
}}
]
},
{
"width":596,"height":263,
"title":{"text":"Ethereum Classic / U.S. Dollar, 1D, BINANCE","subtitle":["Vol","MA (50, close)","MA (200, close, 0)","EMA (20, close, 0)"],"anchor":"start","offset":-43,"dx":3,"fontSize":5.5,"subtitleFontSize":5.5,"fontWeight":"normal","color":"#555555","subtitleColor":"#888888","lineHeight":8.2,"subtitleLineHeight":8.2,"subtitlePadding":2.2},
"resolve":{"scale":{"y":"independent"}},
"layer":[
{"data":{"name":"k"},"mark":{"type":"bar","width":1.3},
"encoding":{
"x":{"field":"d","type":"temporal","scale":{"type":"utc","domain":[{"year":2020,"month":9,"date":2,"hours":9,"utc":true},{"year":2021,"month":7,"date":20,"hours":15,"utc":true}],"nice":false},
"axis":{"values":[{"year":2020,"month":9,"date":7,"utc":true},{"year":2020,"month":10,"date":1,"utc":true},{"year":2020,"month":11,"date":1,"utc":true},{"year":2020,"month":12,"date":1,"utc":true},{"year":2021,"month":1,"date":1,"utc":true},{"year":2021,"month":2,"date":1,"utc":true},{"year":2021,"month":3,"date":1,"utc":true},{"year":2021,"month":4,"date":1,"utc":true},{"year":2021,"month":5,"date":1,"utc":true},{"year":2021,"month":6,"date":1,"utc":true},{"year":2021,"month":7,"date":1,"utc":true}],
"labelExpr":"utcdate(datum.value) == 7 ? '7' : (utcmonth(datum.value) == 0 ? utcFormat(datum.value, '%Y') : utcFormat(datum.value, '%b'))","labelFontSize":5.5,"labelColor":"#555555","tickSize":2,"tickColor":"#999089","labelPadding":1.5,"domainColor":"#aaa197","domainWidth":1.5,"grid":true,"gridColor":"#e8d6c5","title":null,"labelFlush":false,"labelOverlap":false}},
"y":{"field":"v","type":"quantitative","scale":{"domain":[0,263],"nice":false},"axis":null},
"color":{"condition":{"test":"datum.c >= datum.o","value":"#86cbb9"},"value":"#f19d8c"}
}},
{"layer":[
{"data":{"values":[{}]},"mark":{"type":"rule","color":"#b34fc8","strokeWidth":1.6},"encoding":{"y":{"datum":16.6627657,"type":"quantitative","scale":{"type":"log","domain":[1.96,402],"nice":false},"axis":{"title":null}}}},
{"data":{"values":[{}]},"mark":{"type":"rule","color":"#8dbf9c","strokeWidth":1,"strokeDash":[1,2]},"encoding":{"y":{"datum":59.1824387,"type":"quantitative","scale":{"type":"log","domain":[1.96,402],"nice":false},"axis":{"title":null}}}},
{"data":{"name":"k"},"mark":{"type":"rule","color":"#ada49b","strokeWidth":0.8},
"encoding":{
"x":{"field":"d","type":"temporal","scale":{"type":"utc","domain":[{"year":2020,"month":9,"date":2,"hours":9,"utc":true},{"year":2021,"month":7,"date":20,"hours":15,"utc":true}],"nice":false},"axis":{"title":null}},
"y":{"field":"l","type":"quantitative","scale":{"type":"log","domain":[1.96,402],"nice":false},"axis":{"orient":"right","values":[2.2,2.9,3.8,5,7,9.5,13.5,19.5,26.5,36.5,90,120,160,220,300,400],"format":".7f","labelFontSize":5.2,"labelColor":"#4a4a4a","tickSize":3,"tickColor":"#8a8078","labelPadding":2,"domainColor":"#aaa197","domainWidth":1.5,"grid":true,"gridColor":"#e9d8c7","title":null,"labelOverlap":false}},
"y2":{"field":"h"}
}},
{"data":{"name":"k"},"mark":{"type":"bar","width":1.3},
"encoding":{
"x":{"field":"d","type":"temporal","scale":{"type":"utc","domain":[{"year":2020,"month":9,"date":2,"hours":9,"utc":true},{"year":2021,"month":7,"date":20,"hours":15,"utc":true}],"nice":false},"axis":{"title":null}},
"y":{"field":"o","type":"quantitative","scale":{"type":"log","domain":[1.96,402],"nice":false},"axis":{"title":null}},
"y2":{"field":"c"},
"color":{"condition":{"test":"datum.c >= datum.o","value":"#3c9a70"},"value":"#a8463f"}
}},
{"data":{"name":"m"},"mark":{"type":"line","strokeWidth":1.1,"interpolate":"monotone"},
"encoding":{
"x":{"field":"d","type":"temporal","scale":{"type":"utc","domain":[{"year":2020,"month":9,"date":2,"hours":9,"utc":true},{"year":2021,"month":7,"date":20,"hours":15,"utc":true}],"nice":false},"axis":{"title":null}},
"y":{"field":"p","type":"quantitative","scale":{"type":"log","domain":[1.96,402],"nice":false},"axis":{"title":null}},
"color":{"field":"s","type":"nominal","scale":{"domain":["20","50","200"],"range":["#1f9b76","#3a86e8","#f5a623"]},"legend":null}
}},
{"data":{"name":"t"},"mark":{"type":"line","color":"#262626","strokeWidth":1.1},
"encoding":{
"x":{"field":"d","type":"temporal","scale":{"type":"utc","domain":[{"year":2020,"month":9,"date":2,"hours":9,"utc":true},{"year":2021,"month":7,"date":20,"hours":15,"utc":true}],"nice":false},"axis":{"title":null}},
"y":{"field":"p","type":"quantitative","scale":{"type":"log","domain":[1.96,402],"nice":false},"axis":{"title":null}},
"detail":{"field":"id"}
}},
{"data":{"values":[{}]},"mark":{"type":"rect","color":"#4f9f78"},
"encoding":{
"x":{"datum":{"year":2021,"month":7,"date":8,"hours":1,"utc":true},"type":"temporal","scale":{"type":"utc","domain":[{"year":2020,"month":9,"date":2,"hours":9,"utc":true},{"year":2021,"month":7,"date":20,"hours":15,"utc":true}],"nice":false},"axis":{"title":null}},
"x2":{"datum":{"year":2021,"month":7,"date":19,"hours":4,"utc":true}},
"y":{"datum":63.7,"type":"quantitative","scale":{"type":"log","domain":[1.96,402],"nice":false},"axis":{"title":null}},
"y2":{"datum":55.3}
}},
{"data":{"values":[{"t":"ETCUSD"}]},"mark":{"type":"text","color":"#ffffff","fontSize":5,"align":"center","baseline":"middle"},
"encoding":{
"x":{"datum":{"year":2021,"month":7,"date":13,"hours":14,"utc":true},"type":"temporal","scale":{"type":"utc","domain":[{"year":2020,"month":9,"date":2,"hours":9,"utc":true},{"year":2021,"month":7,"date":20,"hours":15,"utc":true}],"nice":false},"axis":{"title":null}},
"y":{"datum":59.1824387,"type":"quantitative","scale":{"type":"log","domain":[1.96,402],"nice":false},"axis":{"title":null}},
"text":{"field":"t"}
}},
{"data":{"values":[{}]},"mark":{"type":"rect","color":"#4f9f78"},
"encoding":{
"x":{"datum":{"year":2021,"month":7,"date":21,"hours":5,"utc":true},"type":"temporal","scale":{"type":"utc","domain":[{"year":2020,"month":9,"date":2,"hours":9,"utc":true},{"year":2021,"month":7,"date":20,"hours":15,"utc":true}],"nice":false},"axis":{"title":null}},
"x2":{"datum":{"year":2021,"month":8,"date":8,"hours":12,"utc":true}},
"y":{"datum":66,"type":"quantitative","scale":{"type":"log","domain":[1.96,402],"nice":false},"axis":{"title":null}},
"y2":{"datum":47.5}
}},
{"data":{"values":[{"t":"59.1824387","p":59.1824387,"k":"a"},{"t":"12:47:23","p":52.4,"k":"b"}]},"mark":{"type":"text","fontSize":5.2,"align":"center","baseline":"middle"},
"encoding":{
"x":{"datum":{"year":2021,"month":7,"date":30,"hours":10,"utc":true},"type":"temporal","scale":{"type":"utc","domain":[{"year":2020,"month":9,"date":2,"hours":9,"utc":true},{"year":2021,"month":7,"date":20,"hours":15,"utc":true}],"nice":false},"axis":{"title":null}},
"y":{"field":"p","type":"quantitative","scale":{"type":"log","domain":[1.96,402],"nice":false},"axis":{"title":null}},
"text":{"field":"t"},
"color":{"condition":{"test":"datum.k == 'a'","value":"#ffffff"},"value":"#d9f0e2"}
}},
{"data":{"values":[{}]},"mark":{"type":"rect","color":"#a546c6"},
"encoding":{
"x":{"datum":{"year":2021,"month":7,"date":21,"hours":5,"utc":true},"type":"temporal","scale":{"type":"utc","domain":[{"year":2020,"month":9,"date":2,"hours":9,"utc":true},{"year":2021,"month":7,"date":20,"hours":15,"utc":true}],"nice":false},"axis":{"title":null}},
"x2":{"datum":{"year":2021,"month":8,"date":7,"hours":20,"utc":true}},
"y":{"datum":17.6,"type":"quantitative","scale":{"type":"log","domain":[1.96,402],"nice":false},"axis":{"title":null}},
"y2":{"datum":15.7}
}},
{"data":{"values":[{"t":"16.6627657","p":16.6627657,"c":"#ffffff"},{"t":"USD","p":356,"c":"#555555"}]},"mark":{"type":"text","fontSize":5.2,"align":"center","baseline":"middle"},
"encoding":{
"x":{"datum":{"year":2021,"month":7,"date":30,"hours":0,"utc":true},"type":"temporal","scale":{"type":"utc","domain":[{"year":2020,"month":9,"date":2,"hours":9,"utc":true},{"year":2021,"month":7,"date":20,"hours":15,"utc":true}],"nice":false},"axis":{"title":null}},
"y":{"field":"p","type":"quantitative","scale":{"type":"log","domain":[1.96,402],"nice":false},"axis":{"title":null}},
"text":{"field":"t"},
"color":{"field":"c","type":"nominal","scale":null}
}}
]}
]
}
]
}
